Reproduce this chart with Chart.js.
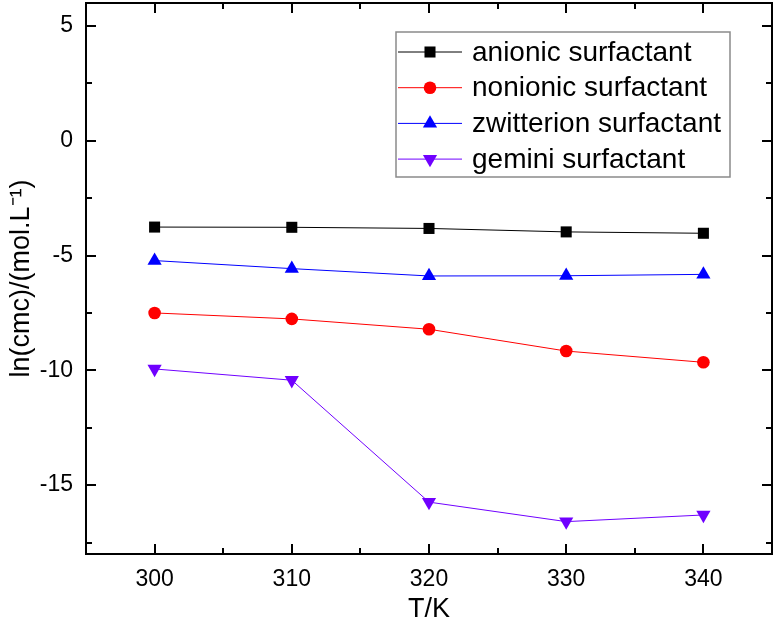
<!DOCTYPE html>
<html>
<head>
<meta charset="utf-8">
<script src="https://cdn.jsdelivr.net/npm/chart.js@4.4.1/dist/chart.umd.min.js"></script>
<style>
  html, body { margin: 0; padding: 0; background: #fff; }
</style>
</head>
<body>
<canvas id="grafico" width="774" height="631"></canvas>
<script>
// Datos
const temperaturas = [300, 310, 320, 330, 340]; // T/K
const anionico = [-3.76, -3.77, -3.82, -3.97, -4.03];
const noIonico = [-7.5, -7.76, -8.21, -9.16, -9.65];
const zwitterion = [-5.22, -5.57, -5.89, -5.88, -5.82];
const gemini = [-9.94, -10.43, -15.74, -16.59, -16.3];

const etiquetasX = [300, 310, 320, 330, 340];
const etiquetasY = [-15, -10, -5, 0, 5];
const nombres = ["anionic surfactant", "nonionic surfactant", "zwitterion surfactant", "gemini surfactant"];

const fuente = "'Liberation Sans', Arial, sans-serif";

// Convierte los arreglos en puntos {x, y}
const puntos = (valores) => temperaturas.map((t, i) => ({ x: t, y: valores[i] }));

// Marco y ticks hacia adentro en los cuatro lados
const marcoPlugin = {
  id: "marco",
  afterDatasetsDraw(chart) {
    const { ctx, chartArea: a, scales: { x, y } } = chart;
    ctx.save();
    ctx.strokeStyle = "#000";
    ctx.lineWidth = 2;
    ctx.strokeRect(a.left, a.top, a.right - a.left, a.bottom - a.top);
    ctx.beginPath();
    for (let v = 300; v <= 340; v += 5) {
      const px = Math.round(x.getPixelForValue(v));
      const largo = v % 10 === 0 ? 10 : 6;
      ctx.moveTo(px, a.bottom);
      ctx.lineTo(px, a.bottom - largo);
      ctx.moveTo(px, a.top);
      ctx.lineTo(px, a.top + largo);
    }
    for (let v = -17.5; v <= 5; v += 2.5) {
      const py = Math.round(y.getPixelForValue(v));
      const largo = v % 5 === 0 ? 10 : 6;
      ctx.moveTo(a.left, py);
      ctx.lineTo(a.left + largo, py);
      ctx.moveTo(a.right, py);
      ctx.lineTo(a.right - largo, py);
    }
    ctx.stroke();
    ctx.restore();
  },
};

// Leyenda con recuadro dentro del área del gráfico
const leyendaPlugin = {
  id: "leyenda",
  afterDraw(chart) {
    const ctx = chart.ctx;
    ctx.save();
    ctx.strokeStyle = "#8a8a8a";
    ctx.lineWidth = 1.5;
    ctx.strokeRect(396, 32, 334, 145);
    chart.data.datasets.forEach((ds, i) => {
      const yy = 52 + i * 35.7;
      ctx.strokeStyle = ds.borderColor;
      ctx.lineWidth = 1;
      ctx.beginPath();
      ctx.moveTo(398, yy);
      ctx.lineTo(462, yy);
      ctx.stroke();
      ctx.fillStyle = ds.pointBackgroundColor;
      Chart.helpers.drawPoint(
        ctx,
        { pointStyle: ds.pointStyle, radius: ds.pointRadius, rotation: ds.pointRotation || 0, borderWidth: 0 },
        430,
        yy
      );
      ctx.fillStyle = "#000";
      ctx.font = "28px " + fuente;
      ctx.textBaseline = "middle";
      ctx.textAlign = "left";
      ctx.fillText(ds.label, 472, yy + 1);
    });
    ctx.restore();
  },
};

const serie = (label, color, valores, estilo, radio, rotacion) => ({
  label: label,
  data: puntos(valores),
  borderColor: color,
  backgroundColor: color,
  pointBackgroundColor: color,
  pointBorderColor: color,
  pointBorderWidth: 0,
  borderWidth: 1,
  pointStyle: estilo,
  pointRadius: radio,
  pointRotation: rotacion,
  tension: 0,
});

new Chart(document.getElementById("grafico"), {
  type: "line",
  data: {
    datasets: [
      serie(nombres[0], "#000000", anionico, "rect", 7.8, 0),
      serie(nombres[1], "#ff0000", noIonico, "circle", 6.3, 0),
      serie(nombres[2], "#0000ff", zwitterion, "triangle", 8.2, 0),
      serie(nombres[3], "#7000ff", gemini, "triangle", 8.2, 180),
    ],
  },
  options: {
    responsive: false,
    animation: false,
    devicePixelRatio: 1,
    layout: { autoPadding: false, padding: { top: 3, right: 2, left: 0, bottom: 0 } },
    plugins: { legend: { display: false }, tooltip: { enabled: false } },
    scales: {
      x: {
        type: "linear",
        min: 295,
        max: 345,
        afterBuildTicks: (s) => { s.ticks = etiquetasX.map((v) => ({ value: v })); },
        afterFit: (s) => {
          s.height = 77;
          s.paddingLeft = 0;
          s.paddingRight = 0;
        },
        grid: { display: false, drawTicks: false },
        border: { display: false },
        ticks: { color: "#000", font: { family: fuente, size: 23 }, padding: 12, maxRotation: 0 },
        title: { display: true, text: "T/K", color: "#000", font: { family: fuente, size: 27 }, padding: { top: 0, bottom: 5 } },
      },
      y: {
        type: "linear",
        min: -18,
        max: 6,
        afterBuildTicks: (s) => { s.ticks = etiquetasY.map((v) => ({ value: v })); },
        afterFit: (s) => {
          s.width = 86;
          s.paddingTop = 0;
          s.paddingBottom = 0;
        },
        grid: { display: false, drawTicks: false },
        border: { display: false },
        ticks: { color: "#000", font: { family: fuente, size: 23 }, padding: 13 },
        title: { display: true, text: "ln(cmc)/(mol.L⁻¹)", color: "#000", font: { family: fuente, size: 27 }, padding: { top: 5, bottom: 0 } },
      },
    },
  },
  plugins: [marcoPlugin, leyendaPlugin],
});
</script>
</body>
</html>
